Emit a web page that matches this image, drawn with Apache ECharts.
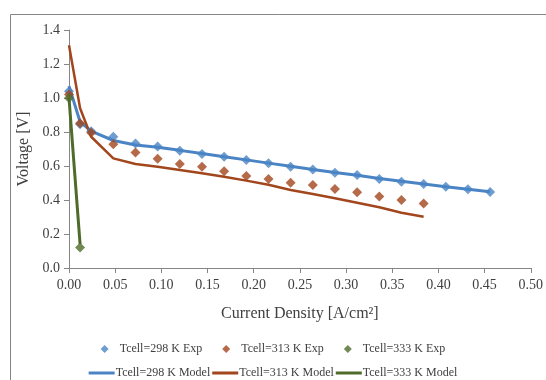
<!DOCTYPE html>
<html>
<head>
<meta charset="utf-8">
<script src="https://cdn.jsdelivr.net/npm/echarts@6/dist/echarts.min.js"></script>
<style>
  html, body { margin: 0; padding: 0; background: #fff; }
  #chart { width: 546px; height: 380px; }
</style>
</head>
<body>
<div id="chart"></div>
<script>
// current density [A/cm2]
const x298 = [0, 0.012, 0.024, 0.048, 0.072, 0.096, 0.12, 0.144, 0.168, 0.192, 0.216, 0.24, 0.264, 0.288, 0.312, 0.336, 0.36, 0.384, 0.408, 0.432, 0.456];
const x313 = [0, 0.012, 0.024, 0.048, 0.072, 0.096, 0.12, 0.144, 0.168, 0.192, 0.216, 0.24, 0.264, 0.288, 0.312, 0.336, 0.36, 0.384];
const x333 = [0, 0.012];

// voltage [V]
const exp298 = [1.04, 0.845, 0.805, 0.772, 0.733, 0.714, 0.69, 0.67, 0.655, 0.635, 0.616, 0.596, 0.58, 0.561, 0.547, 0.524, 0.508, 0.494, 0.478, 0.463, 0.447];
const model298 = [1.07, 0.86, 0.805, 0.75, 0.724, 0.71, 0.692, 0.673, 0.655, 0.636, 0.617, 0.598, 0.58, 0.562, 0.546, 0.527, 0.51, 0.494, 0.478, 0.463, 0.448];
const exp313 = [1.02, 0.851, 0.796, 0.728, 0.68, 0.643, 0.612, 0.596, 0.569, 0.541, 0.524, 0.502, 0.488, 0.465, 0.445, 0.42, 0.40, 0.38];
const model313 = [1.31, 0.94, 0.772, 0.645, 0.612, 0.596, 0.576, 0.557, 0.537, 0.514, 0.49, 0.459, 0.435, 0.41, 0.384, 0.357, 0.325, 0.302];
const exp333 = [1.0, 0.12];
const model333 = [1.0, 0.14];

const names = ['Tcell=298 K Exp', 'Tcell=313 K Exp', 'Tcell=333 K Exp',
               'Tcell=298 K Model', 'Tcell=313 K Model', 'Tcell=333 K Model'];
const colors = ['#4A84C4', '#A2461D', '#4F6B2A'];

function pairs(xs, ys) {
  return xs.map((x, i) => [x, ys[i]]);
}

const font = 'Liberation Serif';
const axisGray = '#868686';
const textColor = '#404040';

const myChart = echarts.init(document.getElementById('chart'));

const option = {
  animation: false,
  textStyle: { fontFamily: font },
  graphic: [{
    type: 'rect',
    shape: { x: 10.5, y: 14.5, width: 600, height: 400 },
    style: { fill: 'none', stroke: axisGray, lineWidth: 1 },
    silent: true
  }],
  grid: { left: 69, top: 30, right: 11, bottom: 112 },
  legend: [
    {
      data: names.slice(0, 3),
      top: 338,
      left: 'center',
      icon: 'diamond',
      itemWidth: 8,
      itemHeight: 8,
      itemGap: 20,
      textStyle: { fontFamily: font, fontSize: 12, color: textColor, padding: [0, 0, 0, 6] }
    },
    {
      data: names.slice(3),
      top: 362,
      left: 'center',
      icon: 'rect',
      itemWidth: 26,
      itemHeight: 3,
      itemGap: 2,
      textStyle: { fontFamily: font, fontSize: 12, color: textColor, padding: [0, 0, 0, -4] }
    }
  ],
  xAxis: {
    type: 'value',
    min: 0,
    max: 0.5,
    interval: 0.05,
    name: 'Current Density [A/cm²]',
    nameLocation: 'middle',
    nameGap: 38,
    nameTextStyle: { fontFamily: font, fontSize: 16, color: textColor },
    axisLine: { show: true, lineStyle: { color: axisGray } },
    axisTick: { show: true, length: 5, lineStyle: { color: axisGray } },
    axisLabel: { fontFamily: font, fontSize: 14, color: textColor, margin: 10,
      formatter: v => v.toFixed(2) },
    splitLine: { show: false }
  },
  yAxis: {
    type: 'value',
    min: 0,
    max: 1.4,
    interval: 0.2,
    name: 'Voltage [V]',
    nameLocation: 'middle',
    nameGap: 36,
    nameTextStyle: { fontFamily: font, fontSize: 16, color: textColor },
    axisLine: { show: true, lineStyle: { color: axisGray } },
    axisTick: { show: true, length: 5, lineStyle: { color: axisGray } },
    axisLabel: { fontFamily: font, fontSize: 14, color: textColor, margin: 9,
      formatter: v => v.toFixed(1) },
    splitLine: { show: false }
  },
  series: [
    {
      name: names[3], type: 'line', data: pairs(x298, model298),
      showSymbol: false, color: colors[0], lineStyle: { width: 3 }, z: 2
    },
    {
      name: names[4], type: 'line', data: pairs(x313, model313),
      showSymbol: false, color: colors[1], lineStyle: { width: 2.5 }, z: 2
    },
    {
      name: names[5], type: 'line', data: pairs(x333, model333),
      showSymbol: false, color: colors[2], lineStyle: { width: 3 }, z: 2
    },
    {
      name: names[0], type: 'scatter', data: pairs(x298, exp298),
      symbol: 'diamond', symbolSize: 10, color: colors[0], z: 3
    },
    {
      name: names[1], type: 'scatter', data: pairs(x313, exp313),
      symbol: 'diamond', symbolSize: 10, color: colors[1], z: 3
    },
    {
      name: names[2], type: 'scatter', data: pairs(x333, exp333),
      symbol: 'diamond', symbolSize: 10, color: colors[2], z: 3
    }
  ]
};

myChart.setOption(option);
</script>
</body>
</html>
